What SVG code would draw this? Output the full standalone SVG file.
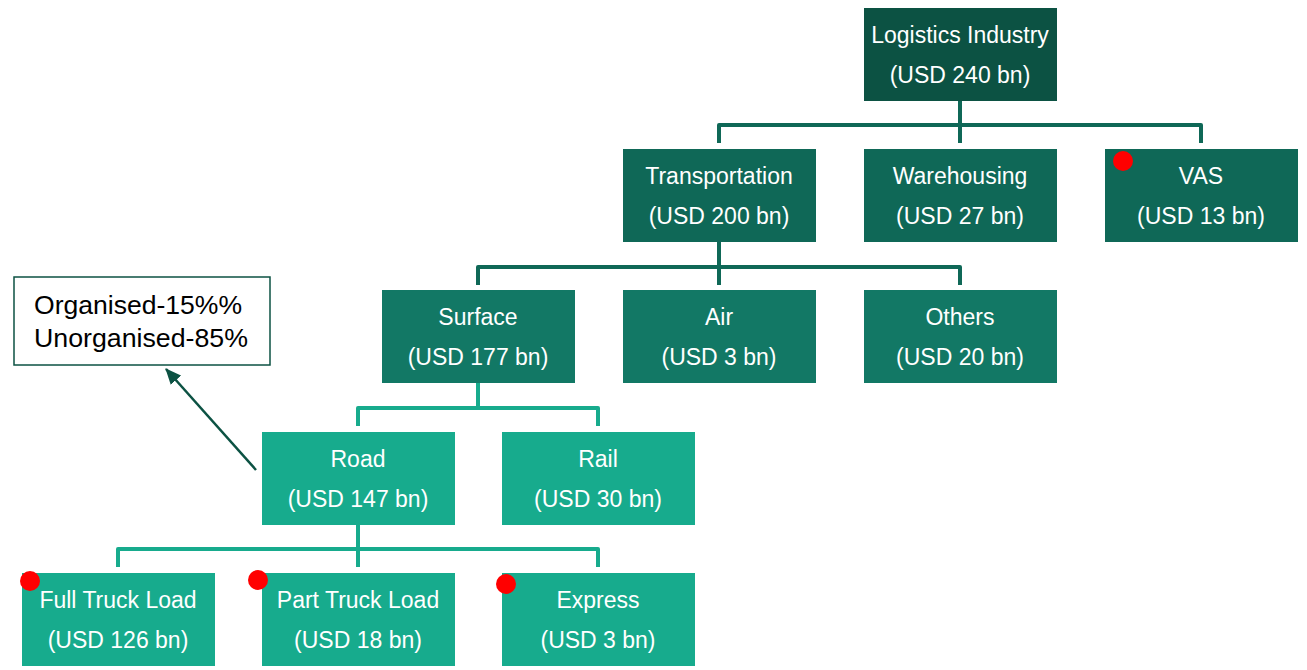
<svg xmlns="http://www.w3.org/2000/svg" width="1307" height="670" viewBox="0 0 1307 670">
<style>
.n text{font-family:"Liberation Sans",Arial,sans-serif;font-size:23px;fill:#fff;text-anchor:middle}
.l0 rect{fill:#0C5243}
.l1 rect{fill:#0F6857}
.l2 rect{fill:#127865}
.l3 rect{fill:#17AB8D}
.dot{fill:#F00}
.c{fill:none;stroke-width:4;stroke-linejoin:round}
.co{font-family:"Liberation Sans",Arial,sans-serif;font-size:25px;fill:#000}
</style>
<defs>
<marker id="ah" markerWidth="16" markerHeight="14" refX="15" refY="7" orient="auto" markerUnits="userSpaceOnUse" viewBox="0 0 16 14">
<path d="M0,0 L16,7 L0,14 z" fill="#0C5243"/>
</marker>
</defs>
<g id="connectors">
<path class="c" stroke="#0F6857" d="M960,101 V125 M719,143 V125 H1201 V143 M960,125 V143"/>
<path class="c" stroke="#0F6857" d="M719,242 V267 M478,285 V267 H960 V285 M719,267 V285"/>
<path class="c" stroke="#17AB8D" d="M478,383 V408 M358,426 V408 H598 V426"/>
<path class="c" stroke="#17AB8D" d="M358,525 V549 M118,567 V549 H598 V567 M358,549 V567"/>
<line x1="256" y1="470" x2="166" y2="369" stroke="#0C5243" stroke-width="2.5" marker-end="url(#ah)"/>
</g>
<g id="logistics" class="n l0"><rect x="864" y="8" width="193" height="93"/><text x="960" y="43">Logistics Industry</text><text x="960" y="83">(USD 240 bn)</text></g>
<g id="transportation" class="n l1"><rect x="623" y="149" width="193" height="93"/><text x="719" y="184">Transportation</text><text x="719" y="224">(USD 200 bn)</text></g>
<g id="warehousing" class="n l1"><rect x="864" y="149" width="193" height="93"/><text x="960" y="184">Warehousing</text><text x="960" y="224">(USD 27 bn)</text></g>
<g id="vas" class="n l1"><rect x="1105" y="149" width="193" height="93"/><text x="1201" y="184">VAS</text><text x="1201" y="224">(USD 13 bn)</text><circle class="dot" cx="1123" cy="161" r="10"/></g>
<g id="surface" class="n l2"><rect x="382" y="290" width="193" height="93"/><text x="478" y="325">Surface</text><text x="478" y="365">(USD 177 bn)</text></g>
<g id="air" class="n l2"><rect x="623" y="290" width="193" height="93"/><text x="719" y="325">Air</text><text x="719" y="365">(USD 3 bn)</text></g>
<g id="others" class="n l2"><rect x="864" y="290" width="193" height="93"/><text x="960" y="325">Others</text><text x="960" y="365">(USD 20 bn)</text></g>
<g id="road" class="n l3"><rect x="262" y="432" width="193" height="93"/><text x="358" y="467">Road</text><text x="358" y="507">(USD 147 bn)</text></g>
<g id="rail" class="n l3"><rect x="502" y="432" width="193" height="93"/><text x="598" y="467">Rail</text><text x="598" y="507">(USD 30 bn)</text></g>
<g id="ftl" class="n l3"><rect x="22" y="573" width="193" height="93"/><text x="118" y="608">Full Truck Load</text><text x="118" y="648">(USD 126 bn)</text><circle class="dot" cx="30" cy="581" r="10"/></g>
<g id="ptl" class="n l3"><rect x="262" y="573" width="193" height="93"/><text x="358" y="608">Part Truck Load</text><text x="358" y="648">(USD 18 bn)</text><circle class="dot" cx="258" cy="580" r="10"/></g>
<g id="express" class="n l3"><rect x="502" y="573" width="193" height="93"/><text x="598" y="608">Express</text><text x="598" y="648">(USD 3 bn)</text><circle class="dot" cx="506" cy="584" r="10"/></g>
<g id="callout"><rect x="14" y="277" width="256" height="88" fill="#fff" stroke="#0C5243" stroke-width="1.5"/><text class="co" x="34" y="314" textLength="208" lengthAdjust="spacingAndGlyphs">Organised-15%%</text><text class="co" x="34" y="347" textLength="214" lengthAdjust="spacingAndGlyphs">Unorganised-85%</text></g>
</svg>
